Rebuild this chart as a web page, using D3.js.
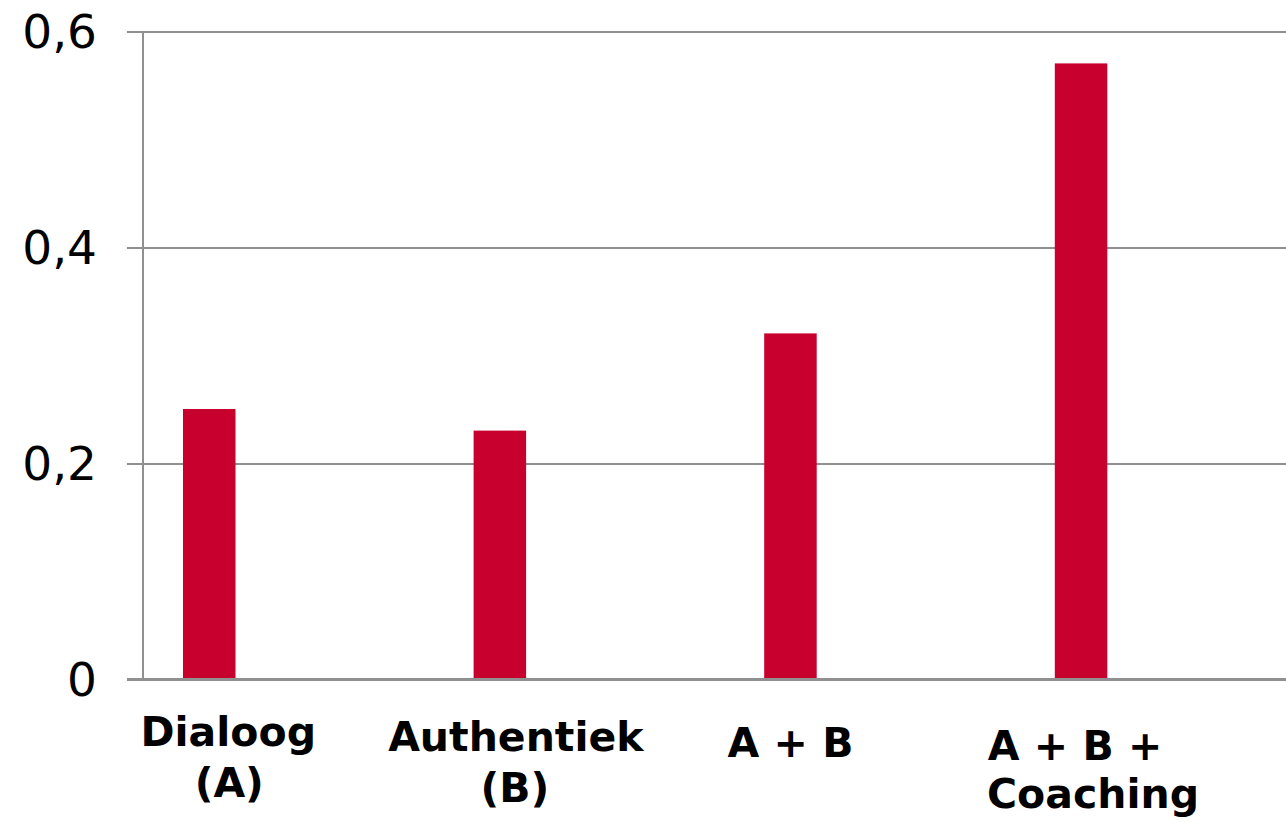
<!DOCTYPE html>
<html>
<head>
<meta charset="utf-8">
<script src="https://cdn.jsdelivr.net/npm/d3@7"></script>
<style>
  html, body { margin: 0; padding: 0; background: #fff; }
  svg { display: block; }
</style>
</head>
<body>
<svg id="chart" width="1286" height="822"></svg>
<script>
// ---- data ----
const categories = ["Dialoog (A)", "Authentiek (B)", "A + B", "A + B + Coaching"];
const labelLines = [["Dialoog", "(A)"], ["Authentiek", "(B)"], ["A + B"], ["A + B +", "Coaching"]];
const values = [0.25, 0.23, 0.32, 0.57];
const yTicks = [0, 0.2, 0.4, 0.6];
const yTickLabels = ["0", "0,2", "0,4", "0,6"];

// ---- layout ----
const W = 1286, H = 822;
const plotLeft = 143, plotRight = 1286, plotTop = 31, plotBottom = 679;
const step = 290.6;
const barOffset = 40, barW = 52.5;
const gridColor = "#909090";
const barColor = "#C8002D";

const svg = d3.select("#chart");

const x = d3.scaleBand()
  .domain(categories)
  .range([plotLeft, plotLeft + step * categories.length])
  .paddingInner(0).paddingOuter(0);

const y = d3.scaleLinear().domain([0, 0.6]).range([plotBottom, plotTop]);

// gridlines + ticks
const yAxis = d3.axisLeft(y)
  .tickValues(yTicks)
  .tickSize(-(plotRight - plotLeft))
  .tickFormat((d, i) => yTickLabels[i]);

const gAxis = svg.append("g")
  .attr("transform", `translate(${plotLeft},0)`)
  .call(yAxis);
gAxis.select(".domain").remove();
gAxis.selectAll(".tick line")
  .attr("x1", -16)
  .attr("stroke", gridColor)
  .attr("stroke-width", 2)
  .attr("shape-rendering", "crispEdges");
gAxis.selectAll(".tick text")
  .attr("x", -46)
  .attr("dy", "0.36em")
  .attr("fill", "#000")
  .style("font-family", "'DejaVu Sans', Verdana, sans-serif")
  .style("font-size", "47px");

// vertical axis line
svg.append("line")
  .attr("x1", plotLeft).attr("x2", plotLeft)
  .attr("y1", y(0.6)).attr("y2", y(0))
  .attr("stroke", gridColor).attr("stroke-width", 2)
  .attr("shape-rendering", "crispEdges");

// bars
svg.append("g").selectAll("rect")
  .data(values)
  .join("rect")
  .attr("x", (d, i) => x(categories[i]) + barOffset)
  .attr("width", barW)
  .attr("y", d => y(d))
  .attr("height", d => y(0) - y(d))
  .attr("fill", barColor);

// redraw baseline on top
svg.append("line")
  .attr("x1", plotLeft - 16).attr("x2", plotRight)
  .attr("y1", y(0)).attr("y2", y(0))
  .attr("stroke", gridColor).attr("stroke-width", 2)
  .attr("shape-rendering", "crispEdges");

// category labels (per-line nudges relative to bar centre)
const labelNudge = [
  [{dx: 19, y: 746}, {dx: 20, y: 797}],
  [{dx: 16, y: 751}, {dx: 15, y: 802}],
  [{dx: 0, y: 757}],
  [{dx: -6, y: 760}, {dx: 12, y: 808}]
];
const gLab = svg.append("g")
  .style("font-family", "'DejaVu Sans', Verdana, sans-serif")
  .style("font-size", "41px")
  .style("font-weight", "bold")
  .attr("fill", "#000")
  .attr("text-anchor", "middle");

labelLines.forEach((lines, i) => {
  const cx = x(categories[i]) + barOffset + barW / 2;
  lines.forEach((t, j) => {
    gLab.append("text")
      .attr("x", cx + labelNudge[i][j].dx)
      .attr("y", labelNudge[i][j].y)
      .text(t);
  });
});
</script>
</body>
</html>
